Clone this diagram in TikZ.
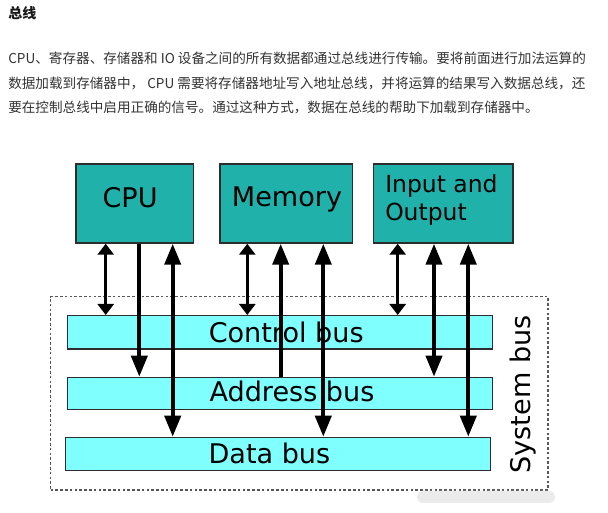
\documentclass[tikz,border=0pt]{standalone}
\usepackage{fontspec}
\usetikzlibrary{arrows.meta}
\newfontfamily\cjk{Noto Sans CJK SC}
\newfontfamily\dv{DejaVu Sans}
\definecolor{boxteal}{RGB}{32,178,170}
\definecolor{buscyan}{RGB}{128,255,255}
\definecolor{edge}{RGB}{45,45,45}
\definecolor{bodytext}{RGB}{51,51,51}
\begin{document}
\begin{tikzpicture}[x=0.75pt,y=-0.75pt,
  unit/.style={draw=edge,line width=1.3pt,fill=boxteal,inner sep=0pt,anchor=north west,minimum height=59.25pt},
  busbox/.style={draw=edge,line width=1.1pt,fill=buscyan,inner sep=0pt,anchor=north west},
  lbl/.style={inner sep=0pt,anchor=base west,text=black},
  bigarrow/.style={line width=3pt,-{Triangle[width=12pt,length=15.75pt]}},
  bigboth/.style={line width=3pt,{Triangle[width=12pt,length=15.75pt]}-{Triangle[width=12pt,length=15.75pt]}},
  smallboth/.style={line width=2.2pt,{Triangle[width=12pt,length=8.25pt]}-{Triangle[width=12pt,length=8.25pt]}},
  para/.style={inner sep=0pt,anchor=base west,text=bodytext,font=\cjk\fontsize{10.2pt}{12pt}\selectfont}
]
\useasboundingbox[fill=white] (0,0) rectangle (608,513);

% heading and paragraph
\node[inner sep=0pt,anchor=base west,text=black!90,font=\cjk\bfseries\fontsize{10.5pt}{12pt}\selectfont] (title) at (8,19) {总线};
\node[para] (p1) at (8,64) {CPU、寄存器、存储器和 IO 设备之间的所有数据都通过总线进行传输。要将前面进行加法运算的};
\node[para] (p2) at (8,88.5) {数据加载到存储器中， CPU 需要将存储器地址写入地址总线，并将运算的结果写入数据总线，还};
\node[para] (p3) at (8,113) {要在控制总线中启用正确的信号。通过这种方式，数据在总线的帮助下加载到存储器中。};

% system bus frame
\node[draw=edge!80,line width=0.9pt,dash pattern=on 2pt off 1.6pt,inner sep=0pt,anchor=north west,minimum width=373pt,minimum height=145pt] (sys) at (50,296) {};

% units
\node[unit,minimum width=88.3pt] (cpu) at (75,163) {};
\node[unit,minimum width=99.5pt] (mem) at (219,163) {};
\node[unit,minimum width=104.7pt] (io) at (372.7,163) {};

% buses
\node[busbox,minimum width=318.75pt,minimum height=25pt] (ctrl) at (66.7,315) {};
\node[busbox,minimum width=318.5pt,minimum height=24.2pt] (addr) at (67,376.7) {};
\node[busbox,minimum width=318.75pt,minimum height=25pt] (data) at (65,436.7) {};

% arrow columns
\coordinate (c1) at (105.7,0);
\coordinate (c2) at (139.3,0);
\coordinate (c3) at (172.7,0);
\coordinate (c4) at (247.3,0);
\coordinate (c5) at (280.7,0);
\coordinate (c6) at (323.3,0);
\coordinate (c7) at (397.7,0);
\coordinate (c8) at (434,0);
\coordinate (c9) at (468.3,0);

\draw[smallboth] (cpu.south -| c1) -- (ctrl.north -| c1);
\draw[bigarrow] (cpu.south -| c2) -- (addr.north -| c2);
\draw[bigboth] (cpu.south -| c3) -- (data.north -| c3);

\draw[smallboth] (mem.south -| c4) -- (ctrl.north -| c4);
\draw[bigarrow] (addr.north -| c5) -- (mem.south -| c5);
\draw[bigboth] (mem.south -| c6) -- (data.north -| c6);

\draw[smallboth] (io.south -| c7) -- (ctrl.north -| c7);
\draw[bigboth] (io.south -| c8) -- (addr.north -| c8);
\draw[bigboth] (io.south -| c9) -- (data.north -| c9);

% labels
\node[lbl,font=\dv\fontsize{20.3pt}{24pt}\selectfont] (cpuL) at (102.3,208) {CPU};
\node[lbl,font=\dv\fontsize{20.3pt}{24pt}\selectfont] (memL) at (231.7,206.5) {Memory};
\node[lbl,font=\dv\fontsize{17.6pt}{21pt}\selectfont] (ioL1) at (385,192.7) {Input and};
\node[lbl,font=\dv\fontsize{17.6pt}{21pt}\selectfont] (ioL2) at (385,220.7) {Output};
\node[lbl,font=\dv\fontsize{20.3pt}{24pt}\selectfont] (ctrlL) at (208.5,342.7) {Control bus};
\node[lbl,font=\dv\fontsize{20.3pt}{24pt}\selectfont] (addrL) at (209.3,401.7) {Address bus};
\node[lbl,font=\dv\fontsize{20.3pt}{24pt}\selectfont] (dataL) at (208.3,463.3) {Data bus};
\node[inner sep=0pt,anchor=base,rotate=90,font=\dv\fontsize{20.3pt}{24pt}\selectfont] (sysL) at (530,394.5) {System bus};

% faint watermark blur
\fill[black!8,rounded corners=4pt] (417,491) rectangle (555,503);
\end{tikzpicture}
\end{document}
